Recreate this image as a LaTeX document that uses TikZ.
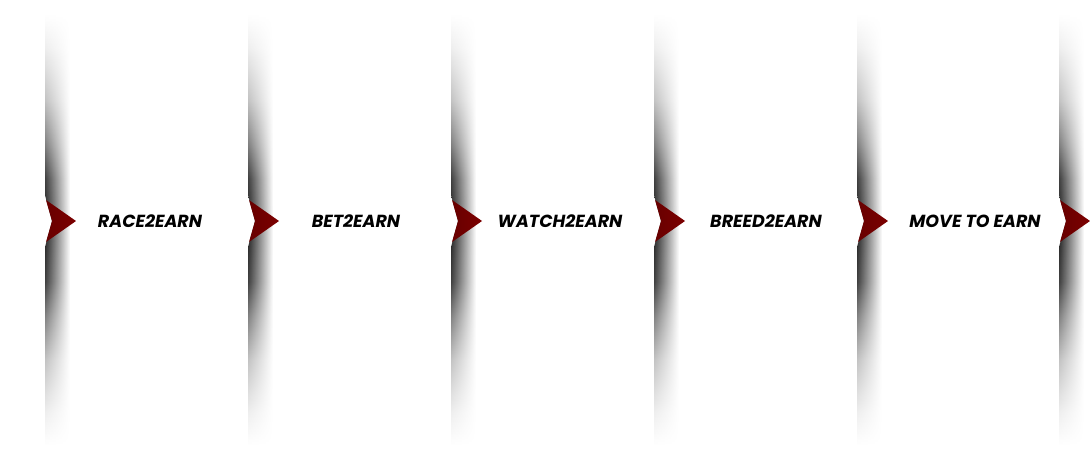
\documentclass[tikz,border=0pt]{standalone}
\usepackage{fontspec}
\newfontfamily\stepfont{Poppins}
\usetikzlibrary{fadings}
% opacity profile of the strips: faint at both ends, strong round the chevrons
\pgfdeclareverticalshading{vfadeshade}{100bp}{%
  color(0bp)=(pgftransparent!100); color(25bp)=(pgftransparent!100);
  color(29bp)=(pgftransparent!92); color(35bp)=(pgftransparent!72);
  color(40bp)=(pgftransparent!42); color(44bp)=(pgftransparent!12);
  color(50bp)=(pgftransparent!0);
  color(56bp)=(pgftransparent!12); color(60bp)=(pgftransparent!42);
  color(65bp)=(pgftransparent!72); color(71bp)=(pgftransparent!92);
  color(75bp)=(pgftransparent!100); color(100bp)=(pgftransparent!100)}
\pgfdeclarefading{vfade}{\pgfuseshading{vfadeshade}}
\definecolor{arrowred}{RGB}{124,0,0}
\definecolor{arrowdark}{RGB}{104,0,0}
\tikzset{
  shadowstrip/.style={left color=black!85, right color=white, path fading=vfade},
  chevron/.style={left color=arrowdark, right color=arrowred},
  steplabel/.style={font=\stepfont\bfseries\itshape\fontsize{17.5}{17.5}\selectfont, text=black}
}
\begin{document}
\begin{tikzpicture}[x=1pt,y=-1pt]
\useasboundingbox (0,0) rectangle (1090,450);
% shadow strips with their chevrons
\foreach \x in {45,248,451,654,857,1059} {
  \shade[shadowstrip] (\x,15) -- (\x,195) -- (\x+7,221) -- (\x,247) -- (\x,445) -- (\x+25,445) -- (\x+25,15) -- cycle;
  \shade[chevron] (\x+1,200) -- (\x+31,221) -- (\x+1,242) -- (\x+7,221) -- cycle;
}
% step labels
\foreach \cx/\txt [count=\i] in {150/RACE2EARN, 356/BET2EARN, 560/WATCH2EARN, 766/BREED2EARN, 975/MOVE TO EARN}
  \node[steplabel] (label\i) at (\cx,221) {\txt};
\end{tikzpicture}
\end{document}
